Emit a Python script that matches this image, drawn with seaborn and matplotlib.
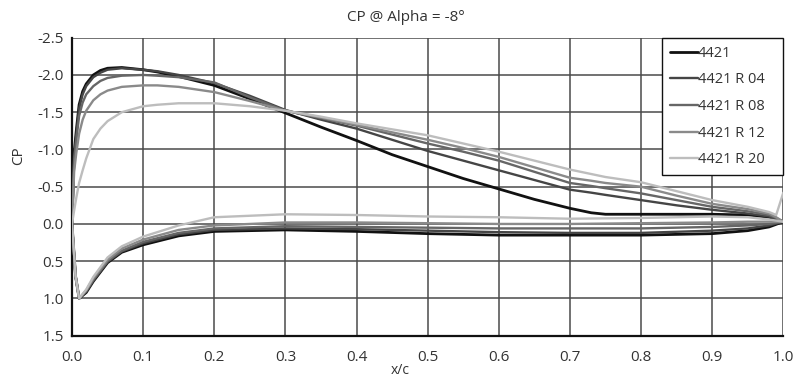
import numpy as np
import pandas as pd
import matplotlib
matplotlib.use("Agg")
import matplotlib.pyplot as plt
import seaborn as sns

sns.set_style("white")
plt.rcParams['font.family'] = ['Open Sans', 'DejaVu Sans']

series_names = ["4421", "4421 R 04", "4421 R 08", "4421 R 12", "4421 R 20"]
series_colors = ["#111111", "#454545", "#666666", "#8a8a8a", "#bdbdbd"]
series_widths = [2.0, 1.7, 1.7, 1.7, 1.7]

# Upper (suction) side, listed from trailing edge to leading edge
x_upper = [1.0, 0.99, 0.98, 0.95, 0.9, 0.85, 0.8, 0.75, 0.73, 0.7, 0.65, 0.6, 0.55, 0.5,
           0.45, 0.4, 0.35, 0.3, 0.25, 0.2, 0.15, 0.12, 0.1, 0.07, 0.05, 0.04, 0.03, 0.02,
           0.015, 0.01, 0.006, 0.003, 0.0]
cp_upper_4421 = [-0.03, -0.06, -0.09, -0.12, -0.13, -0.13, -0.13, -0.13, -0.15, -0.21, -0.33,
                 -0.47, -0.61, -0.77, -0.93, -1.12, -1.30, -1.49, -1.68, -1.86, -1.98, -2.04,
                 -2.07, -2.10, -2.09, -2.06, -2.00, -1.88, -1.78, -1.60, -1.25, -0.95, 0.0]
cp_upper_r04 = [-0.03, -0.07, -0.10, -0.14, -0.19, -0.25, -0.32, -0.39, -0.42, -0.46, -0.59,
                -0.72, -0.85, -0.98, -1.13, -1.28, -1.40, -1.53, -1.72, -1.89, -2.00, -2.05,
                -2.07, -2.09, -2.07, -2.03, -1.97, -1.85, -1.74, -1.55, -1.20, -0.90, 0.0]
cp_upper_r08 = [-0.03, -0.08, -0.12, -0.17, -0.23, -0.32, -0.41, -0.48, -0.51, -0.55, -0.70,
                -0.85, -0.97, -1.08, -1.20, -1.32, -1.42, -1.52, -1.70, -1.90, -1.97, -1.99,
                -2.00, -1.99, -1.96, -1.92, -1.85, -1.74, -1.63, -1.45, -1.12, -0.85, 0.0]
cp_upper_r12 = [-0.03, -0.09, -0.14, -0.20, -0.27, -0.38, -0.50, -0.55, -0.58, -0.62, -0.76,
                -0.90, -1.02, -1.13, -1.23, -1.33, -1.43, -1.52, -1.65, -1.77, -1.84, -1.86,
                -1.86, -1.84, -1.79, -1.74, -1.66, -1.52, -1.40, -1.21, -0.95, -0.70, 0.0]
cp_upper_r20 = [-0.42, -0.12, -0.16, -0.23, -0.32, -0.44, -0.56, -0.63, -0.67, -0.73, -0.85,
                -0.97, -1.08, -1.19, -1.27, -1.35, -1.44, -1.52, -1.58, -1.62, -1.62, -1.60,
                -1.58, -1.50, -1.38, -1.28, -1.14, -0.88, -0.72, -0.55, -0.35, -0.18, 0.0]

# Lower (pressure) side, from leading edge to trailing edge
x_lower = [0.0, 0.005, 0.01, 0.02, 0.03, 0.05, 0.07, 0.1, 0.15, 0.2, 0.3, 0.4, 0.5, 0.6,
           0.7, 0.8, 0.9, 0.95, 0.98, 1.0]
cp_lower_4421 = [0.0, 0.70, 1.00, 0.92, 0.77, 0.52, 0.38, 0.28, 0.16, 0.10, 0.08, 0.10, 0.13,
                 0.15, 0.15, 0.15, 0.13, 0.09, 0.04, -0.03]
cp_lower_r04 = [0.0, 0.70, 1.00, 0.91, 0.76, 0.51, 0.37, 0.26, 0.14, 0.08, 0.06, 0.07, 0.09,
                0.11, 0.12, 0.12, 0.09, 0.06, 0.02, -0.03]
cp_lower_r08 = [0.0, 0.70, 1.00, 0.90, 0.75, 0.50, 0.36, 0.24, 0.12, 0.06, 0.03, 0.04, 0.05,
                0.06, 0.06, 0.06, 0.04, 0.02, 0.0, -0.03]
cp_lower_r12 = [0.0, 0.70, 1.00, 0.89, 0.73, 0.48, 0.33, 0.21, 0.08, 0.02, -0.02, -0.02, -0.01,
                0.0, 0.0, -0.01, -0.02, -0.03, -0.03, -0.03]
cp_lower_r20 = [0.0, 0.70, 1.00, 0.88, 0.71, 0.45, 0.30, 0.17, 0.02, -0.09, -0.13, -0.12, -0.10,
                -0.09, -0.07, -0.08, -0.10, -0.09, -0.06, -0.03]

uppers = [cp_upper_4421, cp_upper_r04, cp_upper_r08, cp_upper_r12, cp_upper_r20]
lowers = [cp_lower_4421, cp_lower_r04, cp_lower_r08, cp_lower_r12, cp_lower_r20]

x_ticks = [0.0, 0.1, 0.2, 0.3, 0.4, 0.5, 0.6, 0.7, 0.8, 0.9, 1.0]
y_ticks = [-2.5, -2.0, -1.5, -1.0, -0.5, 0.0, 0.5, 1.0, 1.5]

frames = []
for name, up, lo in zip(series_names, uppers, lowers):
    xs = list(x_upper) + list(x_lower)
    cps = list(up) + list(lo)
    frames.append(pd.DataFrame({"x": xs, "cp": cps, "series": name,
                                "order": np.arange(len(xs))}))
df = pd.concat(frames, ignore_index=True)

fig = plt.figure(figsize=(7.96, 3.79), dpi=100)
ax = fig.add_axes([72 / 796, 1 - 335.7 / 379, (783.3 - 72) / 796, (335.7 - 37.7) / 379])

for name, col, lw in zip(series_names, series_colors, series_widths):
    sub = df[df["series"] == name]
    sns.lineplot(data=sub, x="x", y="cp", sort=False, estimator=None, color=col,
                 linewidth=lw, ax=ax, label=name, legend=False, zorder=3)

ax.set_xlim(0, 1.0)
ax.set_ylim(1.5, -2.5)
ax.set_xticks(x_ticks)
ax.set_xticklabels([f"{v:.1f}" for v in x_ticks])
ax.set_yticks(y_ticks)
ax.set_yticklabels([f"{v:.1f}" for v in y_ticks])
ax.grid(True, color="#4a4a4a", linewidth=1.1)
ax.set_axisbelow(True)
for s in ["top", "right"]:
    ax.spines[s].set_visible(False)
for s in ["left", "bottom"]:
    ax.spines[s].set_color("#111111")
    ax.spines[s].set_linewidth(1.6)
ax.tick_params(axis="y", direction="out", length=4, width=1.2, pad=2,
               labelsize=11, labelcolor="#333333", color="#111111")
ax.tick_params(axis="x", direction="out", length=3, width=1.2, pad=7,
               labelsize=11, labelcolor="#333333", color="#111111")
ax.set_xlabel("")
ax.set_ylabel("")

fig.text(0.51, 0.955, "CP @ Alpha = -8°", ha="center", va="center", fontsize=11, color="#333333")
fig.text(0.023, 0.59, "CP", ha="center", va="center", rotation=90, fontsize=11, color="#333333")
fig.text(0.503, 0.002, "x/c", ha="center", va="bottom", fontsize=10, color="#333333")

handles = ax.get_lines()[:len(series_names)]
leg_x0 = (662 - 72) / (783.3 - 72)
leg = ax.legend(handles=handles, labels=series_names, loc="upper right",
                bbox_to_anchor=(leg_x0, 0.0, 1.0 - leg_x0, 1.0), mode="expand",
                borderaxespad=0, frameon=True, fancybox=False,
                framealpha=1, edgecolor="#111111", fontsize=10.5, labelspacing=0.8,
                handlelength=1.9, handletextpad=0.0, borderpad=0.55)
leg.get_frame().set_linewidth(1.0)
for t in leg.get_texts():
    t.set_color("#333333")

fig.savefig("out.png", dpi=100)
